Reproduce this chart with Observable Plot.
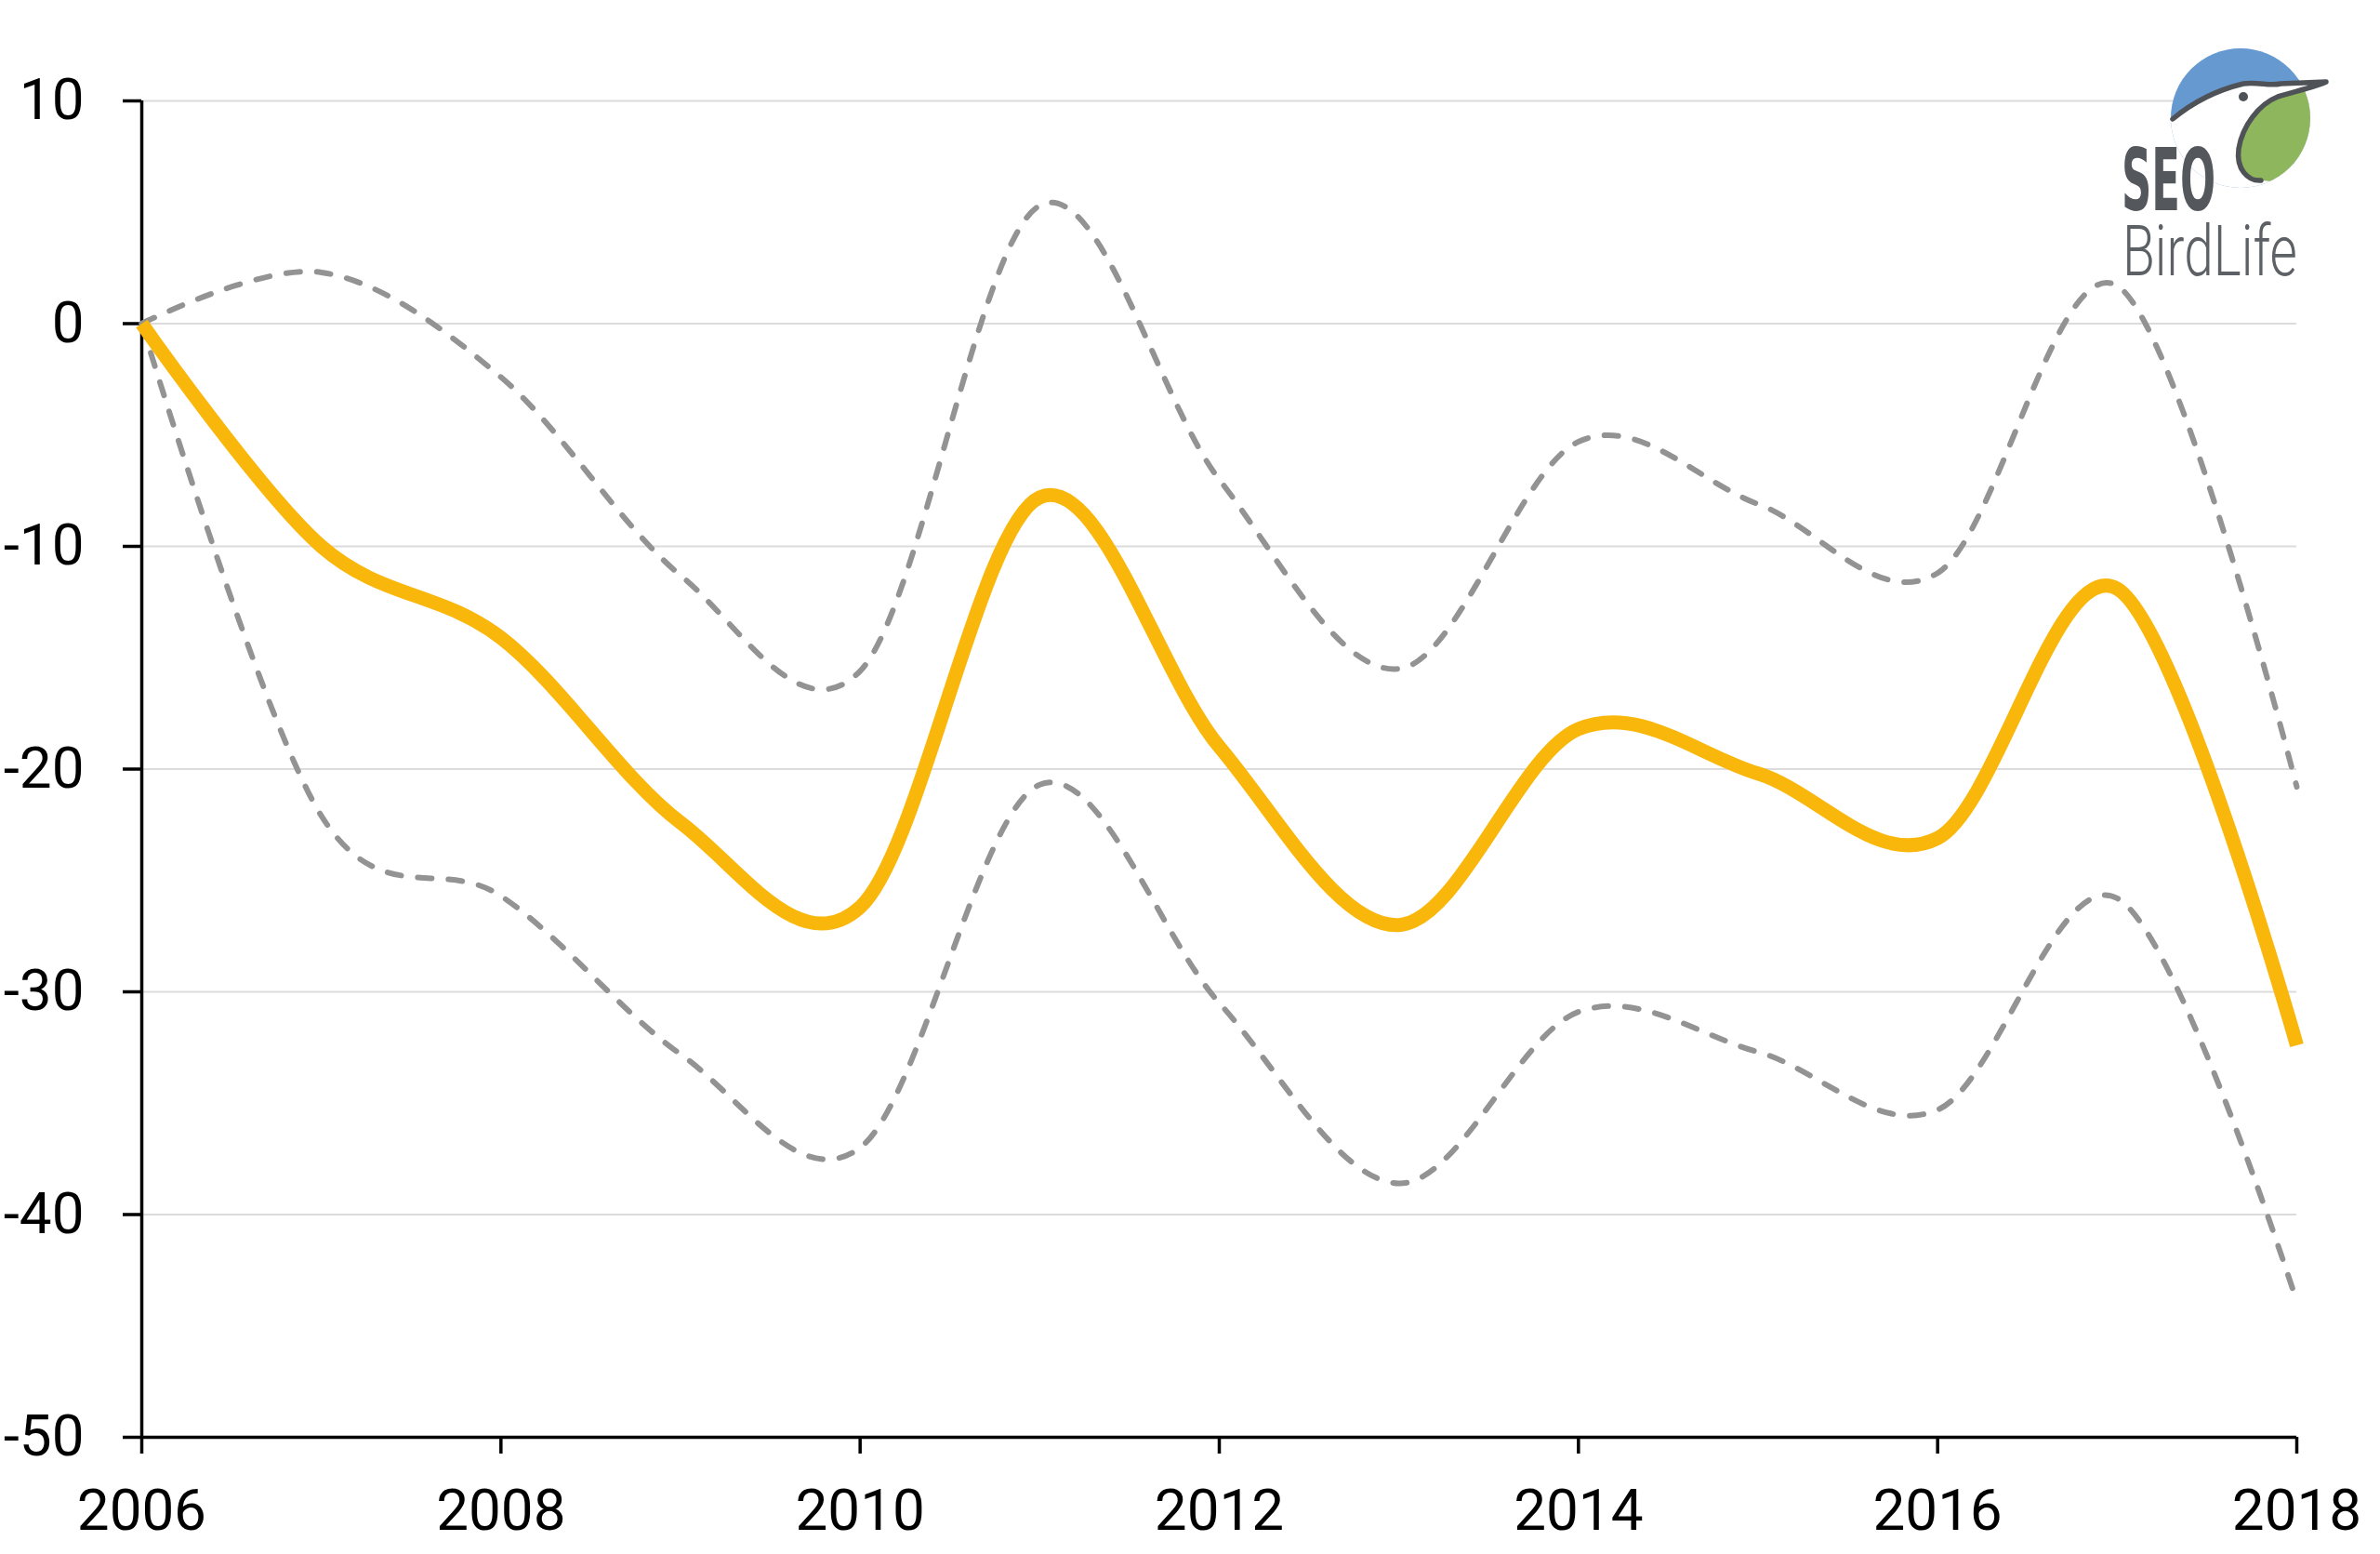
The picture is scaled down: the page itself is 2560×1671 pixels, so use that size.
<!DOCTYPE html>
<html>
<head>
<meta charset="utf-8">
<script src="https://cdn.jsdelivr.net/npm/d3@7"></script>
<script src="https://cdn.jsdelivr.net/npm/@observablehq/plot@0.6"></script>
<style>
  html, body { margin: 0; padding: 0; background: #fff; }
  #wrap { position: relative; width: 2560px; height: 1671px; }
  #logo { position: absolute; left: 0; top: 0; pointer-events: none; }
</style>
</head>
<body>
<div id="wrap"></div>
<script>
// ---- data ----
const years  = [2006, 2007, 2008, 2009, 2010, 2011, 2012, 2013, 2014, 2015, 2016, 2017, 2018];
const trend  = [0, -10.0, -14.1, -22.4, -26.2, -7.8, -19.0, -27.0, -18.2, -20.2, -23.1, -11.9, -32.4];
const upper  = [0, 2.3, -2.4, -11.3, -15.6, 5.3, -7.0, -15.5, -5.3, -8.1, -11.2, 1.7, -20.8];
const lower  = [0, -22.1, -25.7, -32.8, -37.0, -20.7, -30.5, -38.6, -30.9, -32.7, -35.3, -25.8, -43.9];
const yTicks = [10, 0, -10, -20, -30, -40, -50];
const gridTicks = [10, 0, -10, -20, -30, -40];
const xTicks = [2006, 2008, 2010, 2012, 2014, 2016, 2018];

const toRows = vals => years.map((year, i) => ({year, value: vals[i]}));
const trendRows = toRows(trend);
const upperRows = toRows(upper);
const lowerRows = toRows(lower);

const chart = Plot.plot({
  width: 2560,
  height: 1671,
  marginLeft: 152,
  marginRight: 90,
  marginTop: 108,
  marginBottom: 126,
  style: {fontFamily: "Roboto, 'Open Sans', sans-serif", fontSize: "62px", color: "#000", background: "#fff", overflow: "visible"},
  x: {domain: [2006, 2018]},
  y: {domain: [-50, 10]},
  marks: [
    Plot.ruleY(gridTicks, {stroke: "#dcdcdc", strokeWidth: 2}),
    Plot.axisY({ticks: yTicks, tickSize: 20, tickPadding: 42, strokeWidth: 3.5, tickFormat: d => String(d), label: null}),
    Plot.axisX({ticks: xTicks, tickSize: 18, tickPadding: 37, strokeWidth: 3.5, tickFormat: d => String(d), label: null}),
    Plot.ruleX([2006], {stroke: "#000", strokeWidth: 3.5}),
    Plot.ruleY([-50], {stroke: "#000", strokeWidth: 3.5}),
    Plot.line(upperRows, {x: "year", y: "value", curve: "cardinal", tension: 0, stroke: "#939393", strokeWidth: 6, strokeDasharray: "15,18", strokeLinecap: "round"}),
    Plot.line(lowerRows, {x: "year", y: "value", curve: "cardinal", tension: 0, stroke: "#939393", strokeWidth: 6, strokeDasharray: "15,18", strokeLinecap: "round"}),
    Plot.line(trendRows, {x: "year", y: "value", curve: "cardinal", tension: 0, stroke: "#F9B60B", strokeWidth: 15, strokeLinecap: "butt", strokeLinejoin: "round"})
  ]
});
document.getElementById("wrap").appendChild(chart);

// ---- SEO/BirdLife logo (decoration) ----
const ns = "http://www.w3.org/2000/svg";
const logo = document.createElementNS(ns, "svg");
logo.setAttribute("id", "logo");
logo.setAttribute("width", 2560);
logo.setAttribute("height", 1671);
logo.innerHTML = `
  <defs>
    <clipPath id="circ"><circle cx="2410" cy="127" r="75"/></clipPath>
  </defs>
  <g clip-path="url(#circ)">
    <rect x="2330" y="45" width="170" height="170" fill="#6599cf"/>
    <path d="M2337,128 C2355,113 2380,98 2413,90 C2430,88 2442,93 2453,90 L2502,88 L2502,220 L2320,220 L2320,128 Z" fill="#ffffff"/>
    <path d="M2490,93 C2470,98 2448,102 2433,113 C2418,126 2406,148 2408,168 C2410,185 2420,194 2432,194 L2500,200 L2500,90 Z" fill="#8db65d"/>
  </g>
  <path d="M2337,128 C2355,113 2380,98 2413,90 C2430,88 2442,93 2453,90 L2502,88 C2495,92 2470,98 2450,104 C2430,112 2412,135 2408,160 C2405,182 2418,195 2432,194"
        fill="none" stroke="#4f5256" stroke-width="5.5" stroke-linecap="round" stroke-linejoin="round"/>
  <circle cx="2413" cy="104" r="5" fill="#4f5256"/>
  <text><tspan x="2282" y="226" font-family="'DejaVu Sans Condensed', 'DejaVu Sans', sans-serif" font-weight="bold" font-size="92" fill="#54585c" textLength="101" lengthAdjust="spacingAndGlyphs">SEO</tspan><tspan x="2283" y="296" font-family="Roboto, 'Open Sans', sans-serif" font-weight="300" font-size="76" fill="#5d6165" textLength="188" lengthAdjust="spacingAndGlyphs">BirdLife</tspan></text>
`;
document.getElementById("wrap").appendChild(logo);
</script>
</body>
</html>
